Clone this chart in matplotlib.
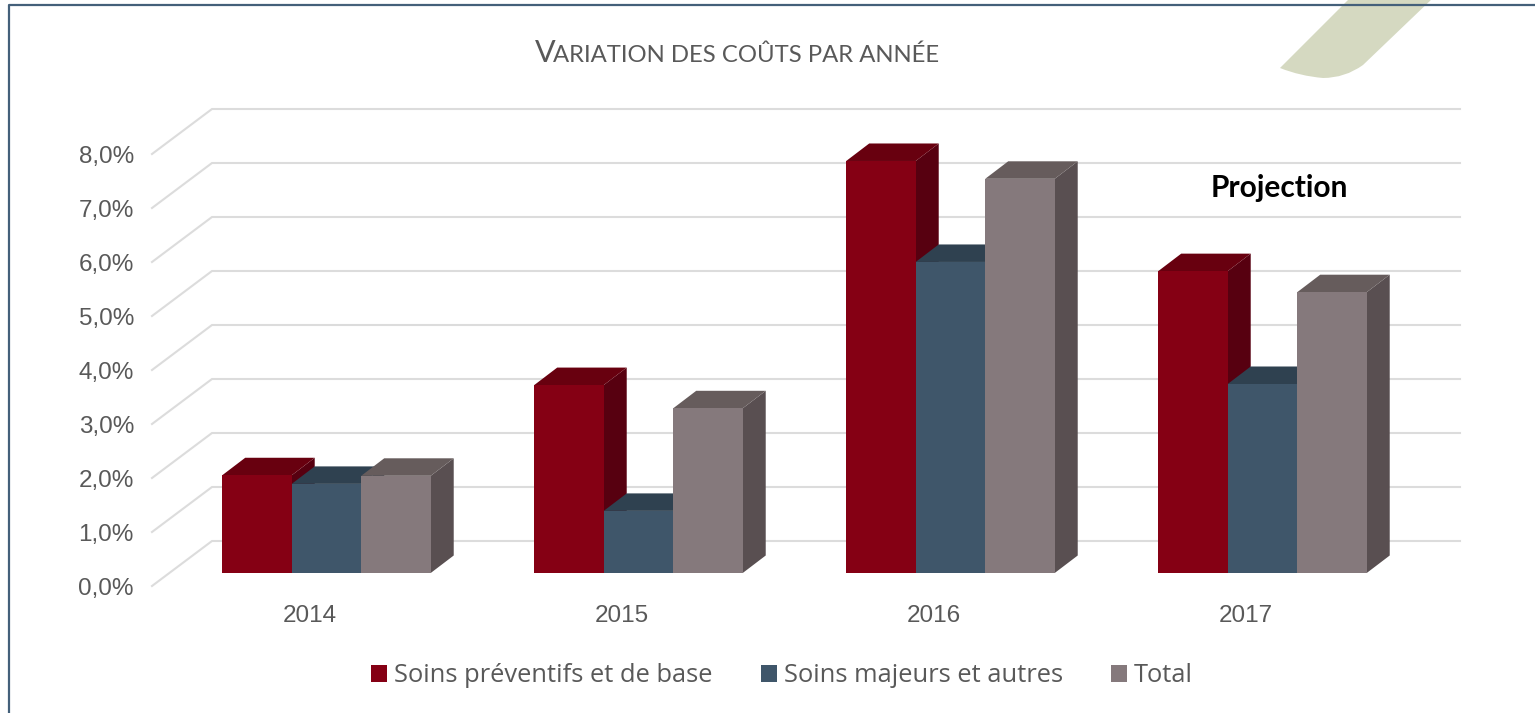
""" Variation des couts par annee, barres avec effet 3D """

import matplotlib
matplotlib.use("Agg")
import matplotlib.pyplot as plt
from matplotlib.lines import Line2D
from matplotlib.patches import PathPatch, Polygon
from matplotlib.path import Path
from matplotlib.transforms import Affine2D

years = ["2014", "2015", "2016", "2017"]
yTicks = [0, 1, 2, 3, 4, 5, 6, 7, 8]
yLabels = ["0,0%", "1,0%", "2,0%", "3,0%", "4,0%", "5,0%", "6,0%", "7,0%", "8,0%"]

seriesNames = ["Soins préventifs et de base", "Soins majeurs et autres", "Total"]
soinsPreventifs = [1.81, 3.48, 7.63, 5.59]
soinsMajeurs = [1.65, 1.15, 5.76, 3.50]
total = [1.80, 3.05, 7.30, 5.20]

frontColors = ["#850014", "#3F566A", "#85797C"]
topColors = ["#68000F", "#2F4150", "#665C5C"]
sideColors = ["#570010", "#2B3C4A", "#594F51"]

W, H = 1535, 713
barWidth = 69.5 / 312
xMin, xMax = -0.506, 3.494
insetX, insetY = 16.6 / 312, 13 / 54
depthX, depthY = 23 / 312, 17.5 / 54
wallX, wallY = 60 / 312, 45 / 54

fig = plt.figure(figsize=(W / 100, H / 100), dpi=100, facecolor="white")
ax = fig.add_axes([152 / W, 1 - 586 / H, 1248 / W, 432 / H])
ax.set_xlim(xMin, xMax)
ax.set_ylim(0, 8)
ax.patch.set_visible(False)
for s in ax.spines.values():
    s.set_visible(False)

# leaf in the background, in pixel coordinates
toPixels = Affine2D().scale(1, -1).translate(0, H)
leaf = Path(
    [(1350, -2), (1280, 68), (1300, 76), (1323, 78), (1345, 78), (1363, 65), (1433, -2), (1350, -2)],
    [Path.MOVETO, Path.LINETO, Path.CURVE3, Path.CURVE3, Path.CURVE3, Path.CURVE3, Path.LINETO, Path.CLOSEPOLY],
)
fig.add_artist(PathPatch(leaf, facecolor="#D5D9C1", edgecolor="none", transform=toPixels, zorder=-5))

# frame
frame = "#44607A"
fig.add_artist(Line2D([9, 9, W], [H, 5, 5], color=frame, lw=1.6, transform=toPixels))

# back wall and side wall gridlines
for t in yTicks:
    ax.plot([xMin, xMin + wallX, xMax + wallX], [t, t + wallY, t + wallY],
            color="#DCDCDC", lw=1.5, clip_on=False, zorder=1, solid_joinstyle="miter")

ax.set_xticks(range(len(years)))
ax.set_xticklabels(years, family="Liberation Sans", fontsize=17.5, color="#595959")
ax.set_yticks(yTicks)
ax.set_yticklabels(yLabels, family="Liberation Sans", fontsize=17.5, color="#595959")
ax.tick_params(axis="x", length=0, pad=13.5)
ax.tick_params(axis="y", length=0, pad=13)

allSeries = [soinsPreventifs, soinsMajeurs, total]
offsets = [-barWidth, 0, barWidth]
for k, values in enumerate(allSeries):
    for i, v in enumerate(values):
        x0 = i + insetX + offsets[k] - barWidth / 2
        x1 = x0 + barWidth
        y0 = insetY
        y1 = insetY + v
        z = 3 + 2 * k + i * 10
        # side then top then the front bar
        ax.add_patch(Polygon([(x1, y0), (x1 + depthX, y0 + depthY), (x1 + depthX, y1 + depthY), (x1, y1)],
                             facecolor=sideColors[k], edgecolor="none", clip_on=False, zorder=z))
        ax.add_patch(Polygon([(x0, y1), (x0 + depthX, y1 + depthY), (x1 + depthX, y1 + depthY), (x1, y1)],
                             facecolor=topColors[k], edgecolor="none", clip_on=False, zorder=z))
    ax.bar([i + insetX + offsets[k] for i in range(len(values))], values, barWidth, bottom=insetY,
           color=frontColors[k], label=seriesNames[k], clip_on=False, zorder=4 + 2 * k)

# front bars have to sit with their own group
for c in ax.containers:
    for i, b in enumerate(c):
        b.set_zorder(b.get_zorder() + i * 10)

leg = ax.legend(loc="center", bbox_to_anchor=(782 / W, 1 - 676 / H), bbox_transform=fig.transFigure,
                ncol=3, frameon=False, handlelength=0.63, handleheight=0.63, handletextpad=0.28,
                columnspacing=1.88, borderpad=0, borderaxespad=0,
                prop={"family": "Open Sans", "size": 18.4})
for t in leg.get_texts():
    t.set_color("#595959")

# title in small capitals
fig.text(535 / W, 1 - 62 / H, "V", family="Lato", fontsize=22, color="#595959", ha="left", va="baseline")
fig.text(553 / W, 1 - 62 / H, "ARIATION DES COÛTS PAR ANNÉE", family="Lato", fontsize=17.2, color="#595959",
         ha="left", va="baseline")

fig.text(1279 / W, 1 - 188 / H, "Projection", family="Lato", weight="bold", fontsize=21.5, color="black",
         ha="center", va="center")

plt.savefig("out.png", dpi=100)
